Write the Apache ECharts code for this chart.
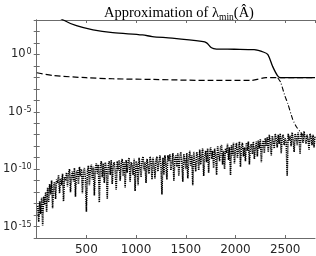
<!DOCTYPE html>
<html><head><meta charset="utf-8">
<script src="https://cdn.jsdelivr.net/npm/echarts@6/dist/echarts.min.js"></script>
<style>html,body{margin:0;padding:0;background:#fff}#c{width:316px;height:256px}</style>
</head><body><div id="c"></div>
<script>
// x ticks
const xTicks = [500, 1000, 1500, 2000, 2500];
// Solid line: approximation (x, log10 value)
const solidX   = [50, 150, 268, 400, 567, 765, 1064, 1163, 1362, 1660, 1710, 1759, 1809, 1988, 2187, 2286, 2326, 2373, 2422, 2455, 2600, 2800];
const solidLog = [5.5, 3.7, 3.0, 2.5, 2.14, 1.9, 1.70, 1.56, 1.42, 1.13, 1.01, 0.58, 0.47, 0.45, 0.41, 0.19, -0.02, -1.03, -1.84, -2.03, -2.03, -2.03];
// Dashed line
const dashX   = [1, 169, 497, 765, 1163, 1759, 2157, 2306, 2425, 2600, 2800];
const dashLog = [-1.6, -1.84, -2.03, -2.12, -2.18, -2.27, -2.27, -2.03, -2.03, -2.03, -2.03];
// Dash-dot line
const dashDotX   = [2425, 2455, 2495, 2525, 2575, 2614, 2654, 2684];
const dashDotLog = [-2.03, -2.44, -3.56, -4.25, -5.64, -6.33, -6.76, -7.10];
// Dotted noisy line, one value every 10 iterations starting at 10 (log10)
const noiseStart = 10, noiseStep = 10;
const noiseLog = [
-13.2,-14.6,-12.8,-13.9,-12.5,-14.9,-12.4,-13.1,-12.0,-13.7,
-11.6,-12.9,-11.3,-12.2,-11.0,-13.4,-11.5,-11.1,-12.6,-10.9,
-11.2,-10.5,-12.1,-10.8,-11.4,-10.4,-12.8,-10.7,-11.0,-10.3,
-11.5,-10.4,-10.0,-12.0,-10.6,-10.2,-11.1,-9.9,-12.4,-10.3,
-10.1,-11.3,-9.8,-10.6,-10.0,-12.1,-10.3,-9.9,-10.8,-13.7,
-10.2,-9.7,-11.4,-10.0,-9.6,-10.9,-9.8,-12.3,-9.9,-9.5,
-10.4,-9.6,-12.9,-9.8,-9.3,-10.7,-9.5,-11.2,-9.4,-9.9,
-12.6,-9.6,-9.3,-10.5,-9.2,-11.3,-9.7,-9.4,-10.2,-11.8,
-9.3,-10.1,-9.2,-11.0,-9.5,-9.1,-10.6,-9.4,-11.6,-9.2,
-10.3,-9.3,-9.0,-11.1,-9.4,-9.6,-10.5,-9.1,-11.9,-9.3,
-9.5,-11.4,-9.0,-9.8,-10.7,-9.2,-8.9,-10.1,-9.4,-11.2,
-9.1,-9.7,-10.4,-8.9,-9.3,-10.9,-9.0,-9.6,-10.8,-9.2,
-8.9,-10.2,-9.4,-8.8,-9.7,-12.2,-9.0,-10.5,-8.8,-9.6,
-10.9,-8.8,-9.3,-8.7,-10.1,-9.5,-8.6,-11.0,-9.1,-8.8,
-9.8,-8.6,-10.6,-9.0,-8.5,-9.4,-11.1,-8.7,-9.2,-10.0,
-8.6,-10.8,-9.1,-8.4,-9.7,-8.8,-11.4,-8.5,-9.3,-10.2,
-8.5,-9.0,-10.1,-8.3,-9.6,-8.7,-8.2,-10.6,-9.0,-8.4,
-9.4,-8.2,-10.3,-8.6,-8.1,-9.1,-8.4,-9.9,-8.2,-8.8,
-10.5,-8.0,-8.7,-9.3,-8.1,-7.9,-9.6,-8.4,-10.0,-8.2,
-8.6,-7.8,-9.2,-8.1,-10.5,-7.9,-8.8,-7.7,-9.5,-8.3,
-7.7,-9.0,-8.2,-7.6,-9.8,-8.0,-7.7,-8.9,-8.1,-9.3,
-7.7,-8.4,-7.6,-9.6,-8.0,-7.8,-8.7,-7.6,-9.1,-8.2,
-7.6,-8.9,-7.5,-8.2,-7.4,-9.4,-7.9,-7.5,-8.6,-7.3,
-8.0,-7.2,-8.5,-7.0,-7.6,-8.8,-7.1,-7.5,-8.2,-6.9,
-7.4,-8.1,-7.0,-7.8,-6.9,-8.6,-7.2,-7.0,-7.9,-7.3,
-7.6,-10.6,-6.9,-7.5,-7.1,-8.0,-6.8,-7.4,-8.5,-6.9,
-7.2,-7.9,-6.8,-7.4,-8.7,-6.9,-7.1,-7.7,-6.7,-7.3,
-7.8,-7.0,-7.4,-8.3,-6.9,-7.2,-7.9,-7.0,-8.1,-7.1
];

const pair = (xs, ls) => xs.map((x, i) => [x, Math.pow(10, ls[i])]);
const noiseData = noiseLog.map((l, i) => [noiseStart + i * noiseStep, Math.pow(10, l)]);

const chart = echarts.init(document.getElementById('c'), null, {renderer: 'canvas'});
const axisColor = '#6b6b6b';
const labelFont = {color: '#262626', fontFamily: 'DejaVu Sans', fontSize: 12};
const baseX = {
  type: 'value', min: 0, max: 2800, interval: 500,
  axisLine: {show: true, lineStyle: {color: axisColor, width: 1}},
  axisTick: {show: true, inside: true, length: 3, lineStyle: {color: axisColor}},
  splitLine: {show: false}
};
const baseY = {
  type: 'log', logBase: 10, min: 1e-16, max: 1e3, interval: 1,
  axisLine: {show: true, lineStyle: {color: axisColor, width: 1}},
  axisTick: {show: true, inside: true, length: 3, lineStyle: {color: axisColor}},
  splitLine: {show: false}, minorTick: {show: false}
};
chart.setOption({
  animation: false,
  backgroundColor: '#fff',
  title: {
    text: '{t|Approximation of λ}{s|min}{t|(Â)}',
    left: 174, textAlign: 'center', top: 0,
    textStyle: {fontWeight: 'normal', rich: {
      t: {fontFamily: 'Liberation Serif', fontSize: 14.5, color: '#000', fontWeight: 'normal'},
      s: {fontFamily: 'Liberation Serif', fontSize: 9.5, color: '#000', fontWeight: 'normal', verticalAlign: 'bottom', padding: [7, 0, 0, 0]}
    }}
  },
  grid: {left: 33, right: 1, top: 20, bottom: 16, containLabel: false},
  xAxis: [
    Object.assign({}, baseX, {position: 'bottom',
      axisLabel: Object.assign({show: true, margin: 6, showMinLabel: false, showMaxLabel: false,
        formatter: v => xTicks.includes(v) ? String(v) : ''}, labelFont)}),
    Object.assign({}, baseX, {position: 'top', axisLabel: {show: false}})
  ],
  yAxis: [
    Object.assign({}, baseY, {position: 'left',
      axisLabel: {show: true, margin: 5, verticalAlign: 'middle',
        formatter: v => { const e = Math.round(Math.log10(v)); return e % 5 === 0 ? '{b|10}{s|' + e + '}' : ''; },
        rich: {
          b: {fontFamily: 'DejaVu Sans', fontSize: 11.5, color: '#262626', lineHeight: 12, padding: [5, 0, 0, 0], verticalAlign: 'bottom'},
          s: {fontFamily: 'DejaVu Sans', fontSize: 8, color: '#262626', lineHeight: 8, verticalAlign: 'top', padding: [0, 0, 0, 1]}
        }}}),
    Object.assign({}, baseY, {position: 'right', axisLabel: {show: false}})
  ],
  series: [
    {type: 'line', xAxisIndex: 0, yAxisIndex: 0, data: noiseData, symbol: 'none', clip: true,
      lineStyle: {color: '#000', width: 1.6, type: [1.2, 0.9]}},
    {type: 'line', data: pair(solidX, solidLog), symbol: 'none', smooth: 0.3, clip: true,
      lineStyle: {color: '#000', width: 1.3, type: 'solid'}},
    {type: 'line', data: pair(dashX, dashLog), symbol: 'none', smooth: 0.3, clip: true,
      lineStyle: {color: '#000', width: 1.2, type: [6, 3]}},
    {type: 'line', data: pair(dashDotX, dashDotLog), symbol: 'none', smooth: 0.2, clip: true,
      lineStyle: {color: '#000', width: 1.1, type: [5, 2, 1, 2]}}
  ]
});
</script></body></html>
